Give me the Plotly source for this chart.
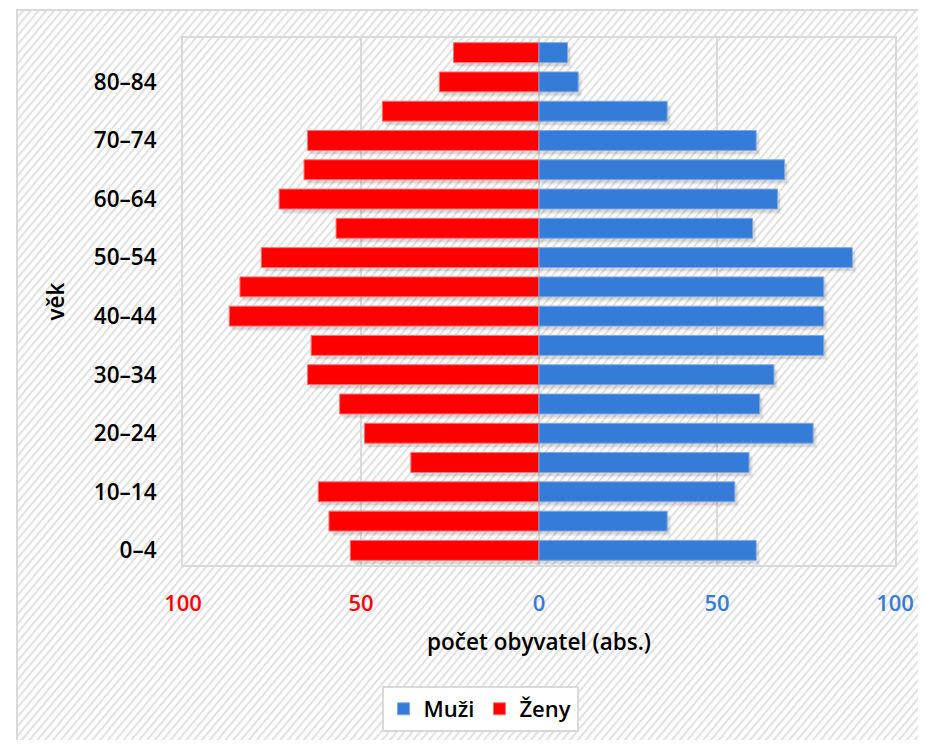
import base64
import plotly.graph_objects as go

# ---- data ----
vek = ["0–4", "5–9", "10–14", "15–19", "20–24", "25–29", "30–34", "35–39", "40–44",
       "45–49", "50–54", "55–59", "60–64", "65–69", "70–74", "75–79", "80–84", "85+"]
muzi = [61, 36, 55, 59, 77, 62, 66, 80, 80, 80, 88, 60, 67, 69, 61, 36, 11, 8]
zeny = [53, 59, 62, 36, 49, 56, 65, 64, 87, 84, 78, 57, 73, 66, 65, 44, 28, 24]
y_ticks = ["0–4", "10–14", "20–24", "30–34", "40–44", "50–54", "60–64", "70–74", "80–84"]
x_tickvals = [-100, -50, 0, 50, 100]
x_ticklabels = ["100", "50", "0", "50", "100"]

RED = "#FF0000"
BLUE = "#357BD8"
GRID = "#D9D9D9"
FONT = "Open Sans"

# page has an 8px body margin; figure sized so the page fits the window exactly
W, H = 910, 732
ML, MR, MT, MB = 175, 23, 30, 175
PW, PH = W - ML - MR, H - MT - MB

# ---- hatched background as an inline svg image ----
BX, BY = 9, 2  # outer chart box corner
svg = f'''<svg xmlns="http://www.w3.org/2000/svg" width="{W}" height="{H}" viewBox="0 0 {W} {H}">
<defs><pattern id="p" width="6" height="6" patternUnits="userSpaceOnUse" patternTransform="rotate(40)">
<rect x="0" y="0" width="2.2" height="6" fill="#E2E2E2"/></pattern></defs>
<rect x="0" y="0" width="{W}" height="{H}" fill="#FFFFFF"/>
<rect x="{BX}" y="{BY}" width="{W - BX + 10}" height="{H - BY + 10}" fill="url(#p)" stroke="{GRID}" stroke-width="2"/>
</svg>'''
src = "data:image/svg+xml;base64," + base64.b64encode(svg.encode()).decode()

BAR_W = 0.68
off = -BAR_W / 2

fig = go.Figure()

# soft shadows
for dx, dy, a in [(1.1, 0.17, 0.05), (0.7, 0.12, 0.09)]:
    fig.add_trace(go.Bar(y=vek, x=[-v for v in zeny], base=dx, orientation="h",
                         width=BAR_W, offset=off - dy, showlegend=False, hoverinfo="skip",
                         marker=dict(color=f"rgba(0,0,0,{a})", line=dict(width=0))))
    fig.add_trace(go.Bar(y=vek, x=muzi, base=dx, orientation="h",
                         width=BAR_W, offset=off - dy, showlegend=False, hoverinfo="skip",
                         marker=dict(color=f"rgba(0,0,0,{a})", line=dict(width=0))))

fig.add_trace(go.Bar(y=vek, x=[-v for v in zeny], orientation="h", name="Ženy",
                     width=BAR_W, offset=off, legendrank=2,
                     marker=dict(color=RED, line=dict(color="#FF7070", width=1))))
fig.add_trace(go.Bar(y=vek, x=muzi, orientation="h", name="Muži",
                     width=BAR_W, offset=off, legendrank=1,
                     marker=dict(color=BLUE, line=dict(color="#7FA8E6", width=1))))

colors = [RED, RED, BLUE, BLUE, BLUE]
ticktext = [f'<span style="color:{c}">{t}</span>' for c, t in zip(colors, x_ticklabels)]

fig.update_layout(
    width=W, height=H,
    margin=dict(l=ML, r=MR, t=MT, b=MB, autoexpand=False),
    barmode="overlay",
    paper_bgcolor="rgba(0,0,0,0)",
    plot_bgcolor="#FFFFFF",
    font=dict(family=FONT, size=22, color="#000000", weight=600),
    images=[dict(source=src, xref="paper", yref="paper",
                 x=-ML / PW, y=1 + MT / PH, sizex=W / PW, sizey=H / PH,
                 xanchor="left", yanchor="top", sizing="stretch", layer="below")],
    xaxis=dict(range=[-100, 100], tickvals=x_tickvals, ticktext=ticktext,
               showgrid=True, gridcolor=GRID, gridwidth=2,
               zeroline=True, zerolinecolor=GRID, zerolinewidth=2,
               showline=True, linecolor=GRID, linewidth=2, mirror=True,
               ticks="", ticklabelstandoff=18, tickfont=dict(size=22),
               title=dict(text="počet obyvatel (abs.)", standoff=18,
                          font=dict(size=22.5, weight=600)),
               fixedrange=True),
    yaxis=dict(categoryorder="array", categoryarray=vek, range=[-0.5, 17.5],
               tickmode="array", tickvals=y_ticks, ticktext=y_ticks,
               showgrid=False, showline=True, linecolor=GRID, linewidth=2, mirror=True,
               ticks="", ticklabelstandoff=20, tickfont=dict(size=22.5),
               title=dict(text="věk", standoff=23, font=dict(size=22.5, weight=600)),
               fixedrange=True),
    legend=dict(orientation="h", x=(472 - ML) / PW, xanchor="center",
                y=(MT + PH - 701) / PH, yanchor="middle",
                bgcolor="#FFFFFF", bordercolor=GRID, borderwidth=2,
                font=dict(size=22, weight=600), itemwidth=30,
                traceorder="normal"),
    showlegend=True,
)

fig.write_html("out.html")
